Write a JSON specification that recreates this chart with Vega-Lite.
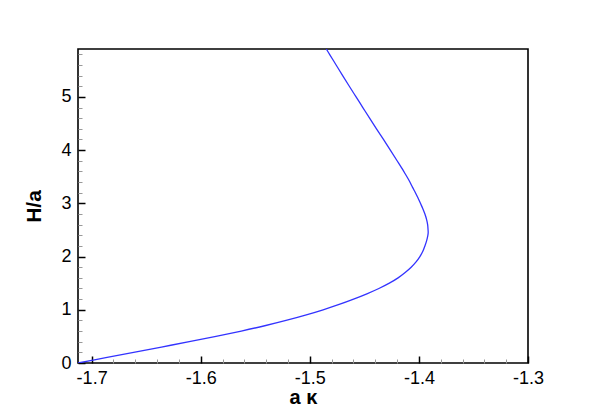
{
  "$schema": "https://vega.github.io/schema/vega-lite/v6.json",
  "width": 450,
  "height": 314,
  "autosize": "none",
  "padding": {"left": 78, "top": 49, "right": 72, "bottom": 46},
  "background": "white",
  "config": {
    "font": "Liberation Sans",
    "view": {"stroke": "black", "strokeWidth": 1.6}
  },
  "data": {
    "values": [
      {"i": 0, "k": -1.7125, "h": 0.0},
      {"i": 1, "k": -1.687, "h": 0.1},
      {"i": 2, "k": -1.6615, "h": 0.2},
      {"i": 3, "k": -1.636, "h": 0.3},
      {"i": 4, "k": -1.6105, "h": 0.4},
      {"i": 5, "k": -1.586, "h": 0.5},
      {"i": 6, "k": -1.5628, "h": 0.6},
      {"i": 7, "k": -1.5413, "h": 0.7},
      {"i": 8, "k": -1.5218, "h": 0.8},
      {"i": 9, "k": -1.504, "h": 0.9},
      {"i": 10, "k": -1.4878, "h": 1.0},
      {"i": 11, "k": -1.4731, "h": 1.1},
      {"i": 12, "k": -1.4599, "h": 1.2},
      {"i": 13, "k": -1.4477, "h": 1.3},
      {"i": 14, "k": -1.4367, "h": 1.4},
      {"i": 15, "k": -1.4271, "h": 1.5},
      {"i": 16, "k": -1.4191, "h": 1.6},
      {"i": 17, "k": -1.4126, "h": 1.7},
      {"i": 18, "k": -1.4071, "h": 1.8},
      {"i": 19, "k": -1.4026, "h": 1.9},
      {"i": 20, "k": -1.3991, "h": 2.0},
      {"i": 21, "k": -1.3964, "h": 2.1},
      {"i": 22, "k": -1.3945, "h": 2.2},
      {"i": 23, "k": -1.3929, "h": 2.3},
      {"i": 24, "k": -1.3918, "h": 2.4},
      {"i": 25, "k": -1.3915, "h": 2.45},
      {"i": 26, "k": -1.3916, "h": 2.5},
      {"i": 27, "k": -1.392, "h": 2.6},
      {"i": 28, "k": -1.393, "h": 2.7},
      {"i": 29, "k": -1.3945, "h": 2.8},
      {"i": 30, "k": -1.3964, "h": 2.9},
      {"i": 31, "k": -1.3986, "h": 3.0},
      {"i": 32, "k": -1.4008, "h": 3.1},
      {"i": 33, "k": -1.4032, "h": 3.2},
      {"i": 34, "k": -1.4058, "h": 3.3},
      {"i": 35, "k": -1.409, "h": 3.43},
      {"i": 36, "k": -1.4139, "h": 3.6},
      {"i": 37, "k": -1.42, "h": 3.8},
      {"i": 38, "k": -1.4262, "h": 4.0},
      {"i": 39, "k": -1.4325, "h": 4.2},
      {"i": 40, "k": -1.4389, "h": 4.4},
      {"i": 41, "k": -1.4452, "h": 4.6},
      {"i": 42, "k": -1.4514, "h": 4.8},
      {"i": 43, "k": -1.4576, "h": 5.0},
      {"i": 44, "k": -1.4638, "h": 5.2},
      {"i": 45, "k": -1.4699, "h": 5.4},
      {"i": 46, "k": -1.4759, "h": 5.6},
      {"i": 47, "k": -1.4819, "h": 5.8},
      {"i": 48, "k": -1.4849, "h": 5.9}
    ]
  },
  "layer": [
    {
      "mark": {"type": "line", "opacity": 0},
      "encoding": {
        "x": {
          "field": "k",
          "type": "quantitative",
          "scale": {"domain": [-1.7125, -1.3], "nice": false, "zero": false},
          "axis": {
            "orient": "bottom",
            "values": [-1.68, -1.66, -1.64, -1.62, -1.58, -1.56, -1.54, -1.52, -1.48, -1.46, -1.44, -1.42, -1.38, -1.36, -1.34, -1.32],
            "labels": false,
            "domain": false,
            "grid": false,
            "tickSize": -4,
            "tickColor": "#999999",
            "tickWidth": 1,
            "title": null
          }
        },
        "y": {
          "field": "h",
          "type": "quantitative",
          "scale": {"domain": [0, 5.9], "nice": false, "zero": false},
          "axis": {
            "orient": "left",
            "values": [0.2, 0.4, 0.6, 0.8, 1.2, 1.4, 1.6, 1.8, 2.2, 2.4, 2.6, 2.8, 3.2, 3.4, 3.6, 3.8, 4.2, 4.4, 4.6, 4.8, 5.2, 5.4, 5.6, 5.8],
            "labels": false,
            "domain": false,
            "grid": false,
            "tickSize": -4,
            "tickColor": "#999999",
            "tickWidth": 1,
            "title": null
          }
        },
        "order": {"field": "i"}
      }
    },
    {
      "mark": {"type": "line", "color": "#3333ff", "strokeWidth": 1.3, "interpolate": "catmull-rom", "clip": true},
      "encoding": {
        "x": {
          "field": "k",
          "type": "quantitative",
          "scale": {"domain": [-1.7125, -1.3], "nice": false, "zero": false},
          "axis": {
            "orient": "bottom",
            "values": [-1.7, -1.6, -1.5, -1.4, -1.3],
            "labelExpr": "toString(datum.value)",
            "labelFlush": false,
            "labelOverlap": false,
            "labelFontSize": 18,
            "labelColor": "black",
            "labelPadding": 13,
            "domain": false,
            "grid": false,
            "tickSize": -7,
            "tickColor": "black",
            "tickWidth": 1.5,
            "title": "a κ",
            "titleFontSize": 20,
            "titleFontWeight": "bold",
            "titleColor": "black",
            "titlePadding": 0
          }
        },
        "y": {
          "field": "h",
          "type": "quantitative",
          "scale": {"domain": [0, 5.9], "nice": false, "zero": false},
          "axis": {
            "orient": "left",
            "values": [0, 1, 2, 3, 4, 5],
            "labelFlush": false,
            "labelOverlap": false,
            "labelFontSize": 18,
            "labelColor": "black",
            "labelPadding": 14,
            "domain": false,
            "grid": false,
            "tickSize": -7,
            "tickColor": "black",
            "tickWidth": 1.5,
            "title": "H/a",
            "titleFontSize": 21,
            "titleFontWeight": "bold",
            "titleColor": "black",
            "titlePadding": 16
          }
        },
        "order": {"field": "i"}
      }
    }
  ],
  "resolve": {"axis": {"x": "independent", "y": "independent"}}
}
